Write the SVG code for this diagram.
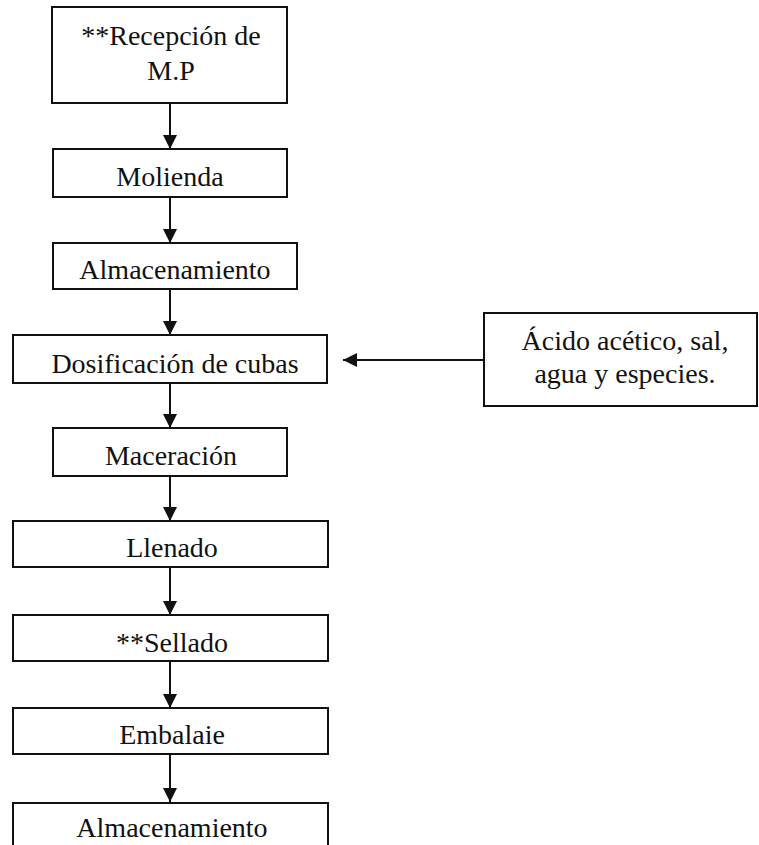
<svg xmlns="http://www.w3.org/2000/svg" width="759" height="845" viewBox="0 0 759 845">
<style>
.box{fill:#fff;stroke:#111;stroke-width:2}
.lbl{font-family:"Liberation Serif","Times New Roman",serif;font-size:28px;fill:#111;text-anchor:middle}
.con{stroke:#111;stroke-width:2;fill:none;marker-end:url(#ah)}
</style>
<defs>
<marker id="ah" markerUnits="userSpaceOnUse" markerWidth="14" markerHeight="14" viewBox="0 0 14 14" refX="14" refY="7" orient="auto">
<path d="M0,0 L14,7 L0,14 Z" fill="#111"/>
</marker>
</defs>
<rect width="759" height="845" fill="#fff"/>
<g id="connectors">
<line class="con" x1="170" y1="103" x2="170" y2="149"/>
<line class="con" x1="170" y1="197" x2="170" y2="243"/>
<line class="con" x1="170" y1="289" x2="170" y2="335"/>
<line class="con" x1="170" y1="383" x2="170" y2="428"/>
<line class="con" x1="170" y1="476" x2="170" y2="521"/>
<line class="con" x1="170" y1="567" x2="170" y2="615"/>
<line class="con" x1="170" y1="661" x2="170" y2="708"/>
<line class="con" x1="170" y1="754" x2="170" y2="802"/>
<line class="con" x1="484" y1="360" x2="343" y2="360"/>
</g>
<g id="n1"><rect class="box" x="52" y="7" width="235" height="96"/><text class="lbl" x="171" y="45">**Recepción de</text><text class="lbl" x="171" y="80">M.P</text></g>
<g id="n2"><rect class="box" x="53" y="149" width="234" height="48"/><text class="lbl" x="170" y="186">Molienda</text></g>
<g id="n3"><rect class="box" x="53" y="243" width="244" height="46"/><text class="lbl" x="175" y="279">Almacenamiento</text></g>
<g id="n4"><rect class="box" x="13" y="335" width="314" height="48"/><text class="lbl" x="175" y="373">Dosificación de cubas</text></g>
<g id="n5"><rect class="box" x="53" y="428" width="234" height="48"/><text class="lbl" x="171" y="465">Maceración</text></g>
<g id="n6"><rect class="box" x="13" y="521" width="315" height="46"/><text class="lbl" x="172" y="557">Llenado</text></g>
<g id="n7"><rect class="box" x="13" y="615" width="315" height="46"/><text class="lbl" x="172" y="652">**Sellado</text></g>
<g id="n8"><rect class="box" x="13" y="708" width="315" height="46"/><text class="lbl" x="172" y="744">Embalaie</text></g>
<g id="n9"><rect class="box" x="13" y="803" width="315" height="60"/><text class="lbl" x="172" y="837">Almacenamiento</text></g>
<g id="n10"><rect class="box" x="484" y="313" width="273" height="93"/><text class="lbl" x="625" y="350">Ácido acético, sal,</text><text class="lbl" x="625" y="383">agua y especies.</text></g>
</svg>
